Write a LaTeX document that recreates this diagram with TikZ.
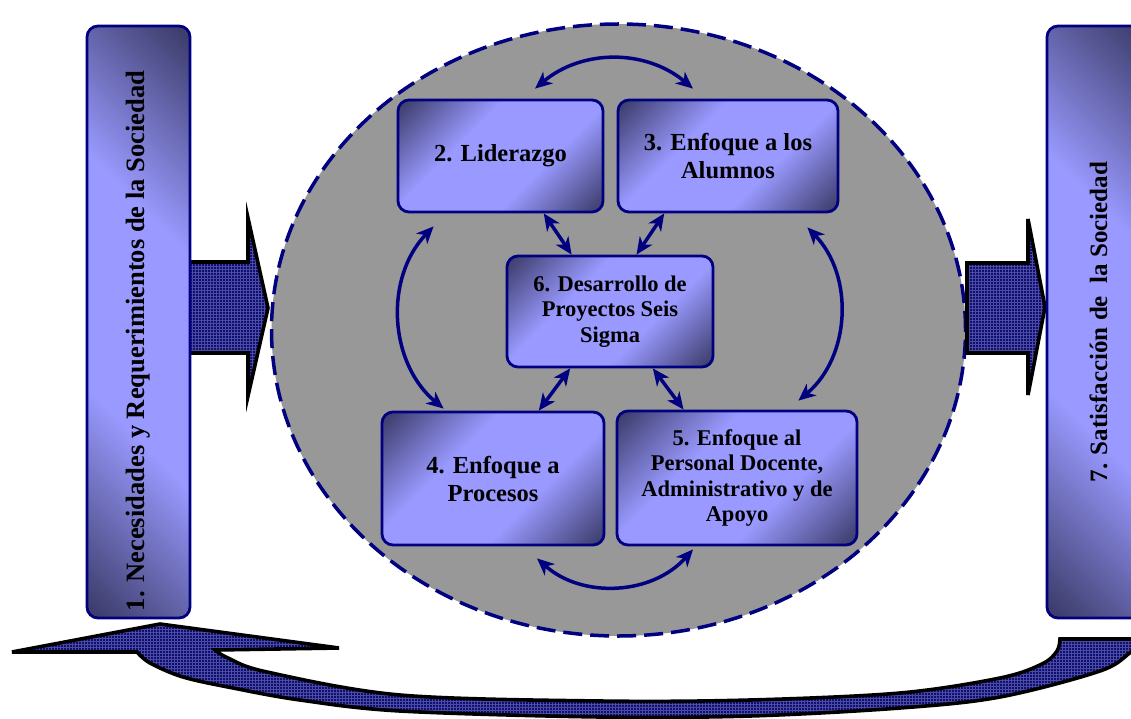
\documentclass[tikz,border=0pt]{standalone}
\usepackage{fontspec}
\setmainfont{Liberation Serif}
\usepackage{graphicx}
\usetikzlibrary{arrows.meta,patterns}

\definecolor{navyline}{RGB}{0,0,128}
\definecolor{boxlight}{RGB}{153,153,255}
\definecolor{boxdark}{RGB}{62,62,110}
\definecolor{ringgray}{RGB}{152,152,152}
\definecolor{arrowfill}{RGB}{15,15,110}
\definecolor{gridline}{RGB}{75,75,165}

% dark corners, light diagonal band
\pgfdeclareverticalshading{panel}{100bp}{color(0bp)=(boxdark); color(16bp)=(boxdark); color(38bp)=(boxlight); color(62bp)=(boxlight); color(84bp)=(boxdark); color(100bp)=(boxdark)}

\tikzset{
  panelbox/.style={draw=navyline, line width=2.8pt, rounded corners=11pt,
    shading=panel, shading angle=45, align=center, inner sep=0pt,
    font=\fontsize{24.5}{28}\selectfont\bfseries},
  smalltext/.style={font=\fontsize{22.5}{25.5}\selectfont\bfseries},
  sidebar/.style={draw=navyline, line width=2.8pt, rounded corners=11pt,
    shading=panel, shading angle=-45, inner sep=0pt,
    minimum width=103pt, minimum height=592pt},
  bartext/.style={rotate=90, inner sep=0pt},
  link/.style={navyline, line width=3.5pt,
    {Stealth[length=17pt,width=15pt,inset=5pt]}-{Stealth[length=17pt,width=15pt,inset=5pt]}},
  blockarrow/.style={draw=black, line width=3.6pt, miter limit=10,
    preaction={fill=arrowfill}, pattern=grid, pattern color=gridline},
  ring/.style={draw=navyline, line width=3.5pt, dash pattern=on 19pt off 8pt, fill=ringgray}
}

\begin{document}
\begin{tikzpicture}[x=1pt,y=1pt]
\useasboundingbox (0,0) rectangle (1131,-719);
\clip (0,0) rectangle (1131,-719);

% central ring
\draw[ring] (618.5,-330) ellipse [x radius=347, y radius=306];

% the five principles
\node[panelbox, minimum width=205pt, minimum height=112pt] (lid) at (500.5,-156) {2. Liderazgo};
\node[panelbox, minimum width=220pt, minimum height=112pt] (alu) at (728,-156) {3. Enfoque a los\\Alumnos};
\node[panelbox, smalltext, minimum width=206pt, minimum height=111pt] (sig) at (610,-311.5) {6. Desarrollo de\\Proyectos Seis\\Sigma};
\node[panelbox, minimum width=222pt, minimum height=133pt] (pro) at (493,-478.5) {4. Enfoque a\\Procesos};
\node[panelbox, smalltext, minimum width=240pt, minimum height=134pt] (per) at (737,-478) {5. Enfoque al\\Personal Docente,\\Administrativo y de\\Apoyo};

% links around the ring
\draw[link] ([xshift=34.5pt,yshift=10pt]lid.north) to[bend left=40] ([xshift=-35pt,yshift=10pt]alu.north);
\draw[link] ([xshift=44pt,yshift=-12pt]pro.south) to[bend right=45] ([xshift=-44pt,yshift=-3pt]per.south);
\draw[link] ([xshift=37pt,yshift=-13pt]lid.south west) to[bend right=47] ([xshift=63pt,yshift=2pt]pro.north west);
\draw[link] ([xshift=-32pt,yshift=-14pt]alu.south east) to[bend left=47] ([xshift=-60pt,yshift=9pt]per.north east);

% links to the Six Sigma projects
\draw[link] (lid.-53) -- (sig.124);
\draw[link] (alu.-138) -- (sig.65);
\draw[link] (sig.-125) -- (pro.56);
\draw[link] (sig.-53) -- (per.128);

% input and output arrows
\draw[blockarrow] (185,-262) -- (248,-262) -- (248,-218) -- (268,-308) -- (248,-396) -- (248,-353) -- (185,-353) -- cycle;
\draw[blockarrow] (967,-263) -- (1028,-263) -- (1028,-219) -- (1045,-307) -- (1028,-395) -- (1028,-353) -- (967,-353) -- cycle;

% side columns
\node[sidebar] (nec) at (138.5,-322) {};
\node[bartext, font=\fontsize{26.5}{30}\selectfont\bfseries] (nectext) at ([yshift=-19pt]nec.center) {1. Necesidades y Requerimientos de la Sociedad};
\node[sidebar] (sat) at (1098.5,-322) {};
\node[bartext, font=\fontsize{25}{30}\selectfont\bfseries] (sattext) at (sat.center) {7. Satisfacción de\ \ la Sociedad};

% feedback arrow along the bottom
\draw[blockarrow] (1145,-639) -- (1060,-639)
  -- plot[smooth, tension=0.55] coordinates {(1060,-639) (1057,-651) (1042,-664) (1000,-678) (900,-693) (750,-700) (600,-701) (400,-695) (267,-672) (228,-658) (215,-650)}
  -- (339,-648) -- (160,-624) -- (12,-652) -- (137,-652)
  -- plot[smooth, tension=0.55] coordinates {(137,-652) (150,-663) (183,-677) (233,-688) (300,-700) (400,-711) (600,-717) (750,-716) (900,-708) (1000,-697) (1100,-671) (1131,-652) (1145,-642)}
  -- cycle;
\end{tikzpicture}
\end{document}
